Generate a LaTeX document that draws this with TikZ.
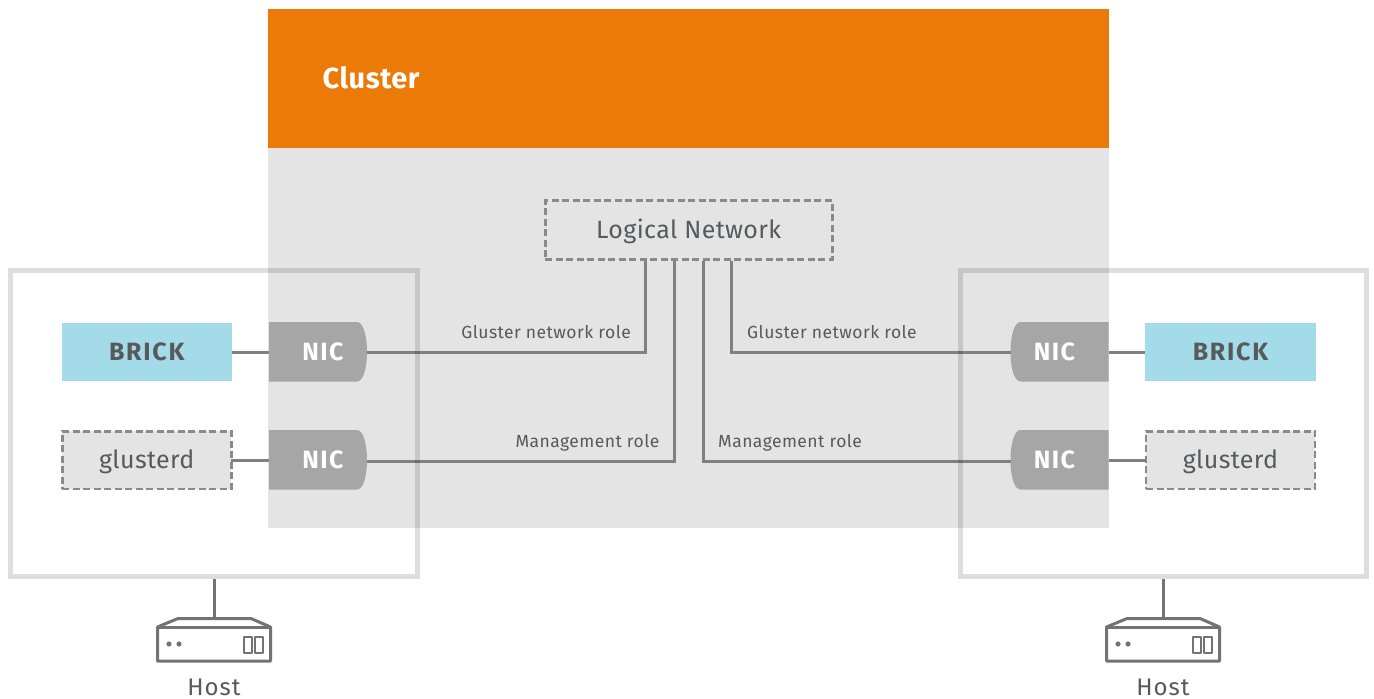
\documentclass[tikz,border=0pt]{standalone}
\usepackage{fontspec}
\setmainfont{Fira Sans}
\usetikzlibrary{calc}
\definecolor{orangeC}{HTML}{EC7A08}
\definecolor{greyC}{HTML}{E4E4E4}
\definecolor{brickC}{HTML}{A3DBE8}
\definecolor{nicC}{HTML}{A6A6A6}
\definecolor{lineC}{HTML}{808080}
\definecolor{dashC}{HTML}{8A8A8A}
\definecolor{textC}{HTML}{58595B}
\definecolor{iconC}{HTML}{737373}
\tikzset{
  boxbase/.style={inner sep=0pt,outer sep=0pt,text=textC,text height=16.5pt,text depth=0pt},
  brick/.style={boxbase,fill=brickC,minimum width=170.5pt,minimum height=57.5pt,font=\fontsize{25}{28}\selectfont\bfseries\addfontfeatures{LetterSpace=7}},
  dashbox/.style={boxbase,draw=dashC,line width=2.5pt,dash pattern=on 7pt off 3.5pt,minimum width=169pt,minimum height=57.5pt,font=\fontsize{25}{28}\selectfont\addfontfeatures{LetterSpace=1.5}},
  nic/.style={boxbase,minimum width=98pt,minimum height=59.5pt},
  nictext/.style={text=white,inner sep=0pt,text height=16.5pt,text depth=0pt,font=\fontsize{25}{28}\selectfont\bfseries\addfontfeatures{LetterSpace=5.5}},
  conn/.style={draw=lineC,line width=3pt},
  rolelabel/.style={text=textC,inner sep=0pt,font=\fontsize{17.5}{20}\selectfont\addfontfeatures{LetterSpace=2.6}},
  hostbox/.style={draw=black,draw opacity=0.13,line width=5pt},
  icon/.style={draw=iconC,line width=3pt,line join=round},
  hostlabel/.style={text=textC,inner sep=0pt,font=\fontsize{24}{27}\selectfont\addfontfeatures{LetterSpace=4}},
}
\newcommand{\serverIcon}[1]{%
  \begin{scope}[shift={(#1,0)}]
    \draw[icon,fill=white] (157.5,627) -- (178,618.5) -- (251,618.5) -- (270.5,627) -- (270.5,661) -- (157.5,661) -- cycle;
    \draw[icon] (157.5,627) -- (270.5,627);
    \fill[iconC] (169,644) circle (2.6pt) (179,644) circle (2.6pt);
    \draw[icon,line width=2pt] (244,636.5) rectangle (251.5,652.5);
    \draw[icon,line width=2pt] (255,636.5) rectangle (262.5,652.5);
  \end{scope}%
}
\begin{document}
\begin{tikzpicture}[x=1pt,y=-1pt]
\useasboundingbox (0,0) rectangle (1374,699);
\fill[white] (0,0) rectangle (1374,699);
% cluster
\fill[greyC] (268,148) rectangle (1109,528);
\fill[orangeC] (268,9) rectangle (1109,148);
\node[anchor=base west,text=white,inner sep=0pt,font=\fontsize{29}{32}\selectfont\bfseries\addfontfeatures{LetterSpace=1.7}] (clusterT) at (322.5,88) {Cluster};
% logical network
\node[dashbox,minimum width=287pt,minimum height=59pt] (ln) at (688.75,230) {Logical Network};
\coordinate (lnA) at (645.5,261);
\coordinate (lnB) at (674.5,261);
\coordinate (lnC) at (703,261);
\coordinate (lnD) at (731.5,261);
% left boxes
\node[brick] (brickL) at (146.75,352) {BRICK};
\node[dashbox,fill=greyC] (glusterL) at (146.75,460) {glusterd};
\node[brick] (brickR) at (1230.5,352) {BRICK};
\node[dashbox,fill=greyC] (glusterR) at (1230.5,460) {glusterd};
% NICs
\fill[nicC] (269,322) -- (357,322) .. controls (363,322) and (367,335) .. (367,352) .. controls (367,369) and (363,381.5) .. (357,381.5) -- (269,381.5) -- cycle;
\fill[nicC] (269,430) -- (357,430) .. controls (363,430) and (367,443) .. (367,460) .. controls (367,477) and (363,489.5) .. (357,489.5) -- (269,489.5) -- cycle;
\fill[nicC] (1108.5,322) -- (1020.5,322) .. controls (1014.5,322) and (1010.5,335) .. (1010.5,352) .. controls (1010.5,369) and (1014.5,381.5) .. (1020.5,381.5) -- (1108.5,381.5) -- cycle;
\fill[nicC] (1108.5,430) -- (1020.5,430) .. controls (1014.5,430) and (1010.5,443) .. (1010.5,460) .. controls (1010.5,477) and (1014.5,489.5) .. (1020.5,489.5) -- (1108.5,489.5) -- cycle;
\node[nic,label={[nictext,xshift=5pt]center:NIC}] (nicL1) at (318,352) {};
\node[nic,label={[nictext,xshift=5pt]center:NIC}] (nicL2) at (318,460) {};
\node[nic,label={[nictext,xshift=-5pt]center:NIC}] (nicR1) at (1059.5,352) {};
\node[nic,label={[nictext,xshift=-5pt]center:NIC}] (nicR2) at (1059.5,460) {};
% connectors
\draw[conn] (brickL.east) -- (nicL1.west);
\draw[conn,yshift=-1pt] (glusterL.east) -- (nicL2.west);
\draw[conn] (brickR.west) -- (nicR1.east);
\draw[conn,yshift=-1pt] (glusterR.west) -- (nicR2.east);
\draw[conn] (nicL1.east) -| (lnA);
\draw[conn] (nicR1.west) -| (lnD);
\draw[conn] (nicL2.east) ++(0,1) -| (lnB);
\draw[conn] (nicR2.west) ++(0,1) -| (lnC);
% labels
\node[rolelabel,anchor=base east] (lab1) at (631,338.2) {Gluster network role};
\node[rolelabel,anchor=base east] (lab2) at (659.5,447) {Management role};
\node[rolelabel,anchor=base west] (lab3) at (747,338.2) {Gluster network role};
\node[rolelabel,anchor=base west] (lab4) at (718,447) {Management role};
% hosts
\draw[hostbox] (10.5,270.5) rectangle (417.5,576.5);
\draw[hostbox] (960,270.5) rectangle (1366.5,576.5);
\coordinate (hostLtop) at (214,579);
\coordinate (hostRtop) at (1163,579);
\coordinate (iconL) at (214,618);
\coordinate (iconR) at (1163,618);
\draw[icon] (hostLtop) -- (iconL);
\draw[icon] (hostRtop) -- (iconR);
\serverIcon{0}
\serverIcon{949}
\node[hostlabel,anchor=base] (hostL) at (214,695.5) {Host};
\node[hostlabel,anchor=base] (hostR) at (1163,695.5) {Host};
\end{tikzpicture}
\end{document}
